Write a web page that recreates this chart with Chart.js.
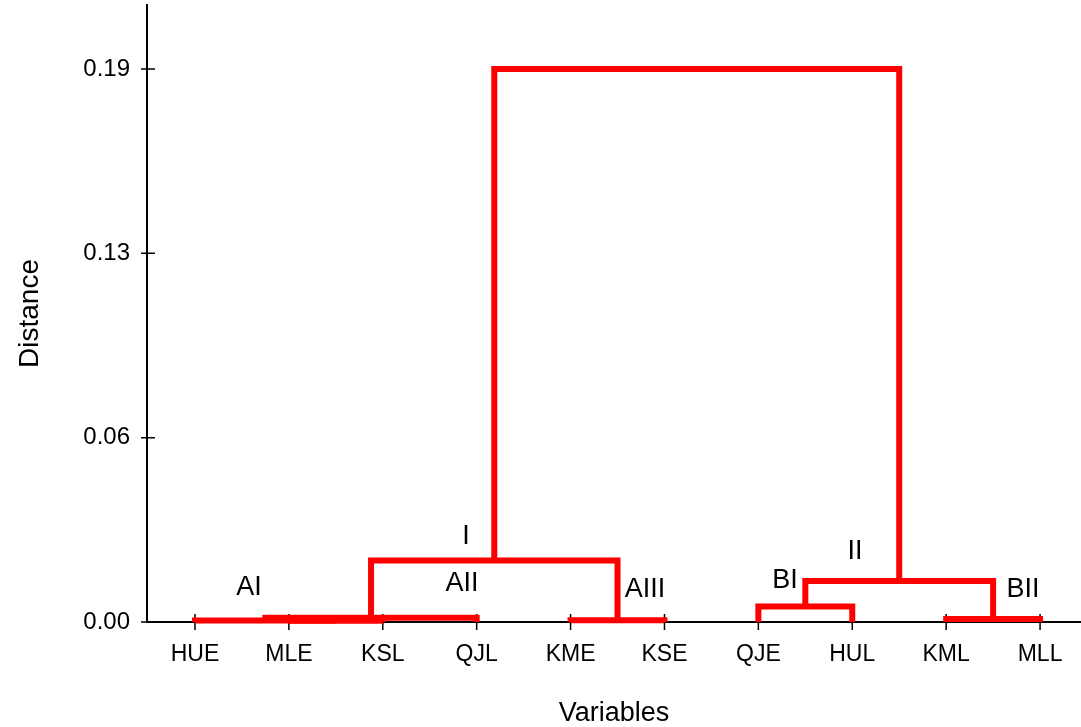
<!DOCTYPE html>
<html>
<head>
<meta charset="utf-8">
<script src="https://cdn.jsdelivr.net/npm/chart.js@4"></script>
<style>
  html, body { margin: 0; padding: 0; background: #fff; }
  #wrap { width: 1081px; height: 727px; }
</style>
</head>
<body>
<div id="wrap"><canvas id="dendro"></canvas></div>
<script>
// leaves (variables) in plotting order
const variables = ["HUE", "MLE", "KSL", "QJL", "KME", "KSE", "QJE", "HUL", "KML", "MLL"];
// merges: node 10 + k joins mergeLeft[k] and mergeRight[k] at mergeHeight[k]
const mergeLeft   = [1, 0, 11, 4, 12, 6, 8, 15, 14];
const mergeRight  = [2, 10, 3, 5, 13, 7, 9, 16, 17];
const mergeHeight = [0.0004, 0.0005, 0.0015, 0.0006, 0.0211, 0.0053, 0.001, 0.0141, 0.19];
const yTicks = [0, 0.0633, 0.1267, 0.19];
// cluster names and where they sit (x in leaf units, y in distance)
const clusterNames = ["I", "II", "AI", "AII", "AIII", "BI", "BII"];
const clusterX = [2.886, 7.029, 0.575, 2.843, 4.792, 6.283, 8.818];
const clusterY = [0.0292, 0.0241, 0.0119, 0.0131, 0.0113, 0.0144, 0.0110];

const FONT = "Arial, 'Liberation Sans', sans-serif";

// build the link datasets from the merge table
const nodeX = variables.map((v, i) => i);
const nodeH = variables.map(() => 0);
const links = [];
mergeLeft.forEach((l, k) => {
  const r = mergeRight[k];
  const h = mergeHeight[k];
  links.push({
    data: [
      {x: nodeX[l], y: nodeH[l]},
      {x: nodeX[l], y: h},
      {x: nodeX[r], y: h},
      {x: nodeX[r], y: nodeH[r]},
    ],
    showLine: true,
    borderColor: "#ff0000",
    borderWidth: 6,
    borderJoinStyle: "miter",
    borderCapStyle: "butt",
    pointRadius: 0,
    pointHoverRadius: 0,
    tension: 0,
    fill: false,
    clip: false,
  });
  nodeX.push((nodeX[l] + nodeX[r]) / 2);
  nodeH.push(h);
});

const extras = {
  id: "extras",
  beforeDatasetsDraw(chart) {
    const ctx = chart.ctx;
    const xs = chart.scales.x, ys = chart.scales.y;
    const a = chart.chartArea;
    ctx.save();
    ctx.strokeStyle = "#000";
    ctx.lineWidth = 1.5;
    ctx.beginPath();
    variables.forEach((v, i) => {
      const px = xs.getPixelForValue(i);
      ctx.moveTo(px, a.bottom - 8);
      ctx.lineTo(px, a.bottom + 8);
    });
    yTicks.forEach(v => {
      const py = ys.getPixelForValue(v);
      ctx.moveTo(a.left - 6, py);
      ctx.lineTo(a.left + 8, py);
    });
    ctx.stroke();
    ctx.restore();
  },
  afterDatasetsDraw(chart) {
    const ctx = chart.ctx;
    const xs = chart.scales.x, ys = chart.scales.y;
    ctx.save();
    ctx.fillStyle = "#000";
    ctx.font = "27px " + FONT;
    ctx.textAlign = "center";
    ctx.textBaseline = "middle";
    clusterNames.forEach((name, i) => {
      ctx.fillText(name, xs.getPixelForValue(clusterX[i]), ys.getPixelForValue(clusterY[i]));
    });
    ctx.restore();
  }
};

new Chart(document.getElementById("dendro"), {
  type: "scatter",
  data: { datasets: links },
  options: {
    responsive: true,
    maintainAspectRatio: false,
    animation: false,
    layout: { padding: { top: 5, right: 0, bottom: 0, left: 0 } },
    plugins: {
      legend: { display: false },
      tooltip: { enabled: false },
    },
    scales: {
      x: {
        type: "linear",
        min: -0.511,
        max: 9.436,
        afterFit: (scale) => {
          scale.height = 105;
          scale.paddingLeft = 0;
          scale.paddingRight = 0;
        },
        afterBuildTicks: (scale) => { scale.ticks = variables.map((v, i) => ({value: i})); },
        grid: { display: true, drawOnChartArea: false, drawTicks: false },
        border: { display: true, color: "#000", width: 2 },
        ticks: {
          autoSkip: false,
          maxRotation: 0,
          padding: 19,
          color: "#000",
          font: { family: FONT, size: 23 },
          callback: (v) => variables[v],
        },
        title: {
          display: true,
          text: "Variables",
          color: "#000",
          font: { family: FONT, size: 27, lineHeight: 1 },
          padding: { top: 0, bottom: 0 },
        },
      },
      y: {
        min: 0,
        max: 0.212,
        afterFit: (scale) => {
          scale.width = 147;
          scale.paddingTop = 0;
          scale.paddingBottom = 0;
        },
        afterBuildTicks: (scale) => { scale.ticks = yTicks.map(v => ({value: v})); },
        grid: { display: true, drawOnChartArea: false, drawTicks: false },
        border: { display: true, color: "#000", width: 2 },
        ticks: {
          padding: 17,
          color: "#000",
          font: { family: FONT, size: 24 },
          callback: (v) => v.toFixed(2),
        },
        title: {
          display: true,
          text: "Distance",
          color: "#000",
          font: { family: FONT, size: 28, lineHeight: 1 },
          padding: { top: 16, bottom: 0 },
        },
      },
    },
  },
  plugins: [extras],
});
</script>
</body>
</html>
